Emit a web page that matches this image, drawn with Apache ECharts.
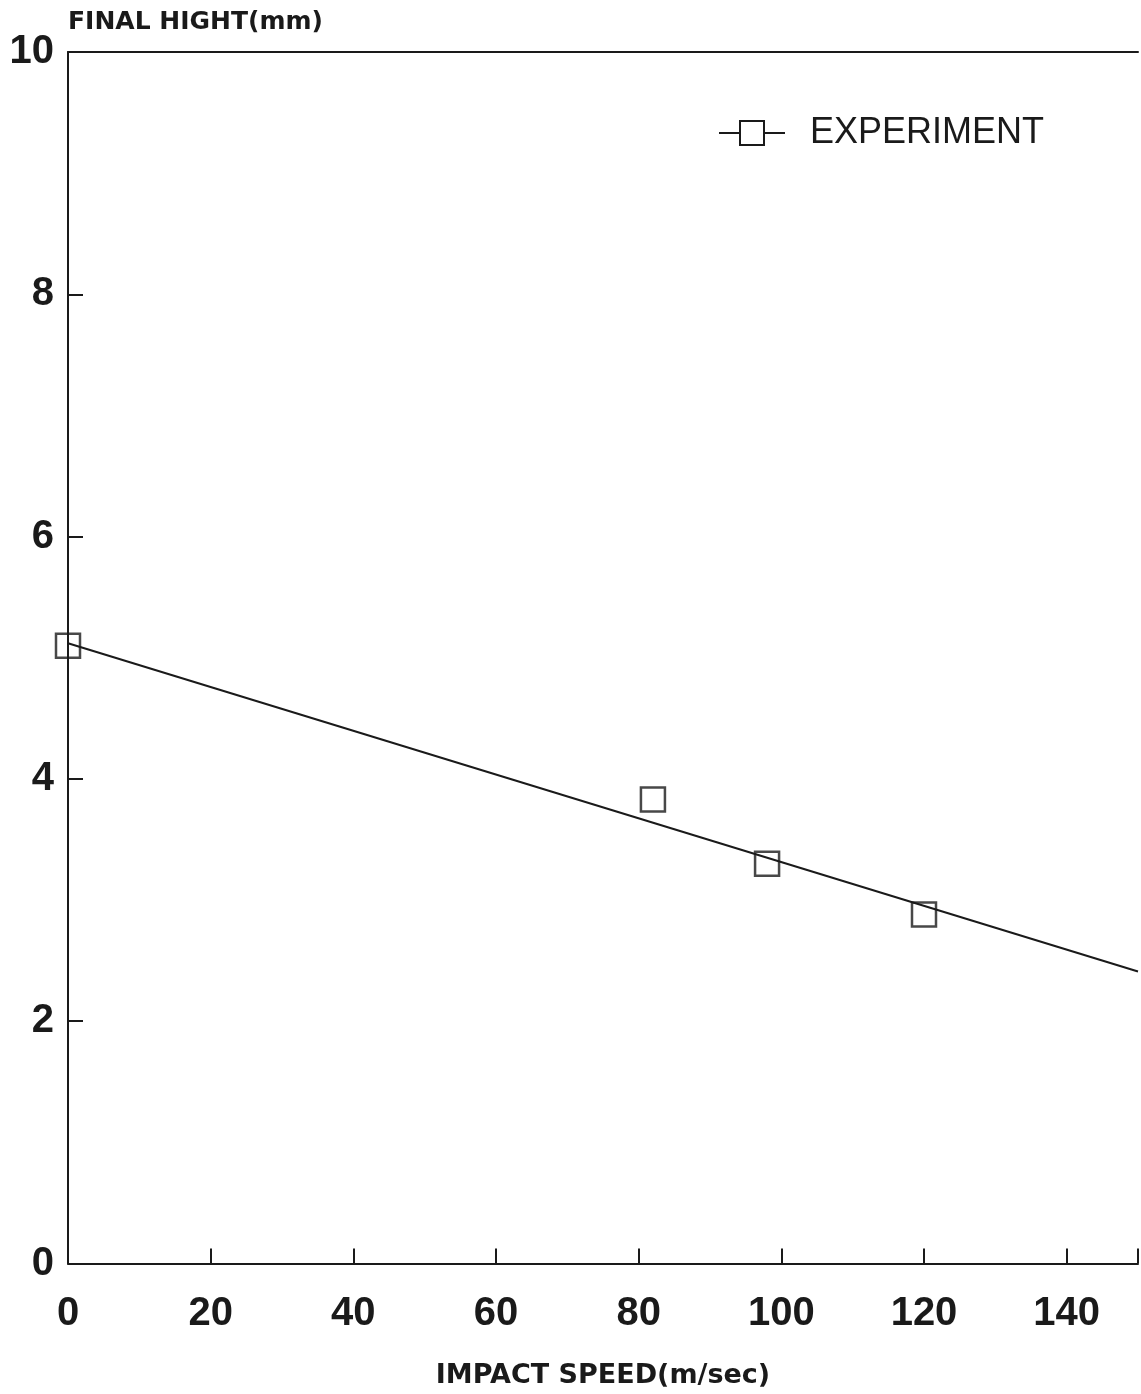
<!DOCTYPE html>
<html>
<head>
<meta charset="utf-8">
<script src="https://cdn.jsdelivr.net/npm/echarts@6/dist/echarts.min.js"></script>
<style>
html,body{margin:0;padding:0;background:#fff;}
#chart{width:1141px;height:1394px;}
</style>
</head>
<body>
<div id="chart"></div>
<script>
// Experimental points: impact speed (m/sec) vs final height (mm)
const speeds = [0, 82, 98, 120];
const heights = [5.1, 3.83, 3.3, 2.88];
// Fitted straight line end points
const fitSpeeds = [0, 150];
const fitHeights = [5.12, 2.41];
// Axis ticks
const xTicks = [0, 20, 40, 60, 80, 100, 120, 140];
const yTicks = [0, 2, 4, 6, 8, 10];
const seriesName = 'EXPERIMENT';
const xTitle = 'IMPACT SPEED(m/sec)';
const yTitle = 'FINAL HIGHT(mm)';

const ink = '#1a1a1a';
const chart = echarts.init(document.getElementById('chart'));
const pts = speeds.map((s, i) => [s, heights[i]]);
const fit = fitSpeeds.map((s, i) => [s, fitHeights[i]]);

chart.setOption({
  animation: false,
  backgroundColor: '#ffffff',
  grid: { left: 68, right: 0, top: 52, bottom: 125, containLabel: false },
  legend: {
    data: [seriesName],
    left: 713, top: 110,
    itemWidth: 66, itemHeight: 30, itemGap: 10,
    textStyle: { fontFamily: 'Liberation Sans', fontSize: 36, color: ink, fontWeight: 'normal', padding: [6, 0, 0, 20] }
  },
  xAxis: [{
    type: 'value', min: 0, max: 150, interval: 20,
    name: xTitle, nameLocation: 'middle', nameGap: 112,
    nameTextStyle: { fontFamily: 'DejaVu Sans', fontWeight: 'bold', fontSize: 27, color: ink, verticalAlign: 'middle' },
    axisLine: { show: true, lineStyle: { color: ink, width: 2 } },
    axisTick: { show: true, inside: true, length: 15, lineStyle: { color: ink, width: 2 } },
    axisLabel: {
      margin: 30, fontFamily: 'Liberation Sans', fontWeight: 'bold', fontSize: 40, color: ink,
      formatter: v => (xTicks.indexOf(v) >= 0 ? String(v) : '')
    },
    splitLine: { show: false }
  }, {
    type: 'value', min: 0, max: 150, position: 'top',
    axisLine: { show: true, lineStyle: { color: ink, width: 2 } },
    axisTick: { show: false }, axisLabel: { show: false }, splitLine: { show: false }
  }],
  yAxis: {
    type: 'value', min: 0, max: 10, interval: 2,
    name: yTitle, nameLocation: 'end', nameGap: 30,
    nameTextStyle: { fontFamily: 'DejaVu Sans', fontWeight: 'bold', fontSize: 25, color: ink, align: 'left', verticalAlign: 'middle' },
    axisLine: { show: true, lineStyle: { color: ink, width: 2 } },
    axisTick: { show: true, inside: true, length: 15, lineStyle: { color: ink, width: 2 } },
    axisLabel: {
      margin: 14, fontFamily: 'Liberation Sans', fontWeight: 'bold', fontSize: 40, color: ink,
      formatter: v => (yTicks.indexOf(v) >= 0 ? String(v) : '')
    },
    splitLine: { show: false }
  },
  series: [{
    name: seriesName,
    type: 'line',
    data: fit,
    symbol: 'emptyRect',
    symbolSize: 24,
    showSymbol: false,
    lineStyle: { color: ink, width: 2 },
    itemStyle: { color: ink, borderColor: ink, borderWidth: 2.5 },
    z: 2
  }, {
    name: 'points',
    type: 'scatter',
    data: pts,
    symbol: 'rect',
    symbolSize: 24,
    itemStyle: { color: 'rgba(0,0,0,0)', borderColor: ink, borderWidth: 2.5 },
    z: 3
  }]
});
</script>
</body>
</html>
